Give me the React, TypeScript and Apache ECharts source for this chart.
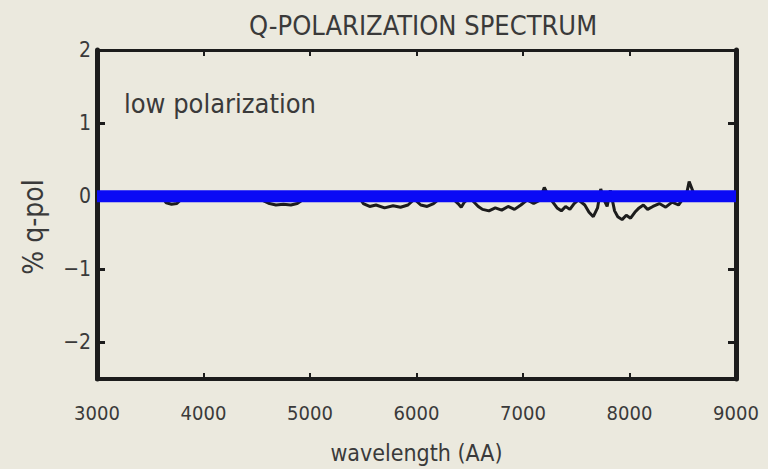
import React, { useEffect, useRef } from "react";
import * as echarts from "echarts";

const titleText = "Q-POLARIZATION SPECTRUM";
const xAxisName = "wavelength (AA)";
const yAxisName = "% q-pol";
const annotation = "low polarization";

const yTickValues = [-2, -1, 0, 1, 2];

// smoothed model line (blue)
const modelWavelength = [3000, 9000];
const modelQ = [0.0, 0.0];

// observed q spectrum (black)
const specWavelength = [
  3300, 3450, 3600, 3650, 3700, 3750, 3800, 3950, 4100, 4300, 4500, 4620, 4680,
  4750, 4820, 4880, 4950, 5100, 5300, 5450, 5500, 5560, 5620, 5700, 5780, 5850,
  5920, 5980, 6040, 6100, 6160, 6220, 6300, 6390, 6420, 6450, 6500, 6580, 6620,
  6680, 6740, 6800, 6860, 6920, 6980, 7040, 7100, 7150, 7180, 7200, 7230, 7280,
  7320, 7360, 7400, 7440, 7480, 7520, 7580, 7620, 7660, 7700, 7730, 7760, 7790,
  7820, 7860, 7890, 7930, 7970, 8010, 8050, 8090, 8130, 8170, 8220, 8280, 8340,
  8400, 8460, 8500, 8540, 8560, 8600, 8640, 8700, 8800, 8900, 8980,
];
const specQ = [
  0.02, -0.02, 0.01, -0.09, -0.11, -0.1, -0.03, 0.02, -0.01, 0.02, -0.02, -0.1,
  -0.12, -0.11, -0.12, -0.1, -0.03, 0.01, -0.02, 0.01, -0.1, -0.14, -0.12,
  -0.16, -0.13, -0.15, -0.12, -0.04, -0.12, -0.14, -0.1, -0.03, 0.02, -0.1,
  -0.15, -0.08, -0.02, -0.14, -0.18, -0.2, -0.16, -0.19, -0.14, -0.18, -0.12,
  -0.05, -0.1, -0.06, 0.04, 0.12, 0.03, -0.08, -0.16, -0.2, -0.14, -0.18,
  -0.1, -0.05, -0.12, -0.22, -0.28, -0.16, 0.1, -0.05, -0.14, 0.08, -0.2,
  -0.28, -0.32, -0.26, -0.3, -0.22, -0.16, -0.12, -0.18, -0.14, -0.1, -0.15,
  -0.08, -0.12, -0.04, 0.06, 0.2, 0.05, -0.02, 0.01, -0.02, 0.01, -0.06,
];

const bg = "#ebe9de";
const ink = "#1c1c1c";
const textInk = "#3a3a3a";
const font = "'DejaVu Sans Condensed', 'Liberation Sans Narrow', 'Liberation Sans', sans-serif";

export default function App() {
  const ref = useRef<HTMLDivElement>(null);
  useEffect(() => {
    if (!ref.current) return;
    const chart = echarts.init(ref.current, null, { renderer: "svg" });
    const axisCommon = {
      min: 3000,
      max: 9000,
      interval: 1000,
      type: "value" as const,
      splitLine: { show: false },
    };
    const yCommon = {
      type: "value" as const,
      min: -2.5,
      max: 2,
      splitLine: { show: false },
    };
    chart.setOption({
      animation: false,
      backgroundColor: bg,
      grid: { left: 97, right: 32, top: 50, bottom: 86 },
      xAxis: [
        {
          ...axisCommon,
          position: "bottom",
          axisLine: { onZero: false, lineStyle: { color: ink, width: 4 } },
          axisTick: { inside: true, length: 6, lineStyle: { color: ink, width: 2 } },
          axisLabel: {
            color: textInk,
            fontFamily: font,
            fontSize: 20,
            margin: 24,
            showMinLabel: true,
            showMaxLabel: true,
            formatter: (v: number) => String(v),
          },
          name: xAxisName,
          nameLocation: "middle",
          nameGap: 62,
          nameTextStyle: { color: textInk, fontFamily: font, fontSize: 23 },
        },
        {
          ...axisCommon,
          position: "top",
          axisLine: { onZero: false, lineStyle: { color: ink, width: 3 } },
          axisTick: { inside: true, length: 6, lineStyle: { color: ink, width: 2 } },
          axisLabel: { show: false },
        },
      ],
      yAxis: [
        {
          ...yCommon,
          position: "left",
          axisLine: { onZero: false, lineStyle: { color: ink, width: 5 } },
          axisTick: {
            inside: true,
            length: 8,
            customValues: yTickValues,
            lineStyle: { color: ink, width: 3 },
          },
          axisLabel: {
            color: textInk,
            fontFamily: font,
            fontSize: 21,
            margin: 6,
            padding: [8, 0, 0, 0],
            customValues: yTickValues,
            formatter: (v: number) => (v < 0 ? "\u2212" + String(-v) : String(v)),
          },
        },
        {
          ...yCommon,
          position: "right",
          axisLine: { onZero: false, lineStyle: { color: ink, width: 5 } },
          axisTick: {
            inside: true,
            length: 8,
            customValues: yTickValues,
            lineStyle: { color: ink, width: 3 },
          },
          axisLabel: { show: false },
        },
      ],
      title: {
        text: titleText,
        left: 418,
        top: 7,
        textAlign: "center",
        textStyle: { color: textInk, fontFamily: font, fontSize: 27, fontWeight: "normal" },
      },
      graphic: [
        {
          type: "text",
          x: 124,
          y: 103,
          style: {
            text: annotation,
            fill: textInk,
            font: `27px ${font}`,
            textVerticalAlign: "middle",
          },
        },
        {
          type: "text",
          x: 33,
          y: 227,
          rotation: Math.PI / 2,
          style: {
            text: yAxisName,
            fill: textInk,
            font: `28px ${font}`,
            textAlign: "center",
            textVerticalAlign: "middle",
          },
        },
      ],
      series: [
        {
          type: "line",
          data: specWavelength.map((w, i) => [w, specQ[i]]),
          showSymbol: false,
          lineStyle: { color: ink, width: 3 },
          z: 2,
        },
        {
          type: "line",
          data: modelWavelength.map((w, i) => [w, modelQ[i]]),
          showSymbol: false,
          lineStyle: { color: "#0a0af5", width: 12 },
          z: 3,
        },
      ],
    });
    return () => chart.dispose();
  }, []);
  return <div ref={ref} style={{ width: 768, height: 469, position: "absolute", left: 0, top: 0 }} />;
}
